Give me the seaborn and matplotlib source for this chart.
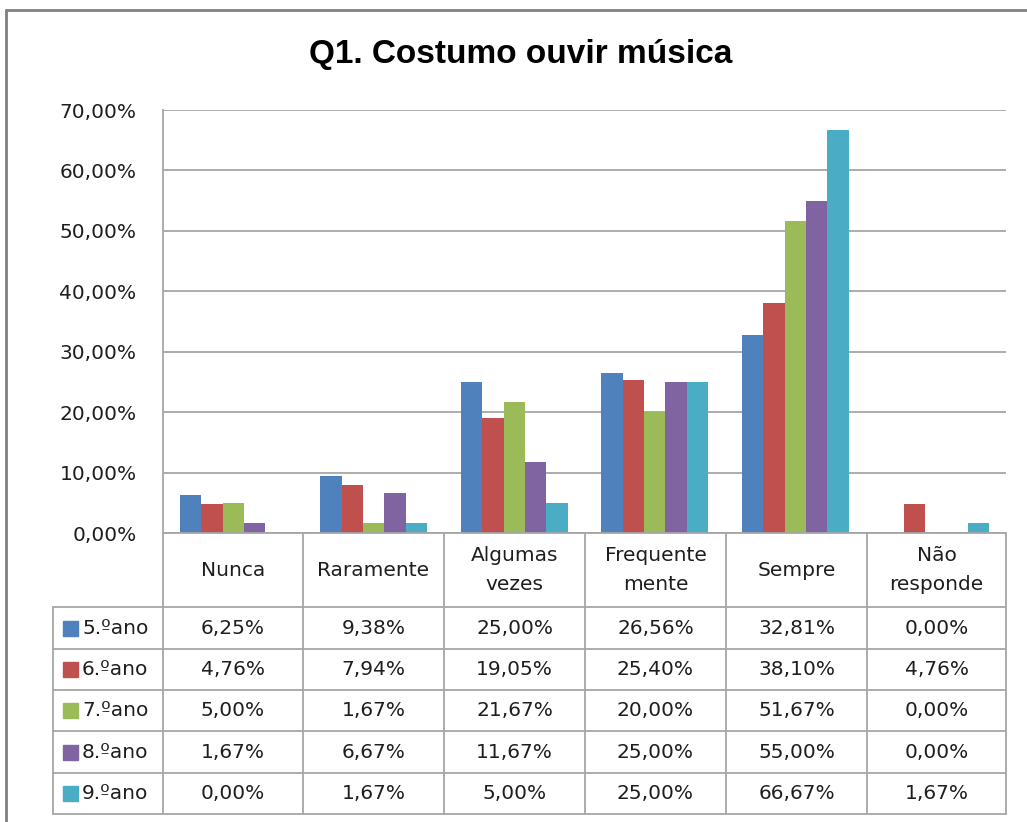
import matplotlib
matplotlib.use("Agg")
import matplotlib.pyplot as plt
import seaborn as sns
import pandas as pd
from matplotlib import font_manager
from matplotlib.lines import Line2D
from matplotlib.patches import Rectangle

categories = ["Nunca", "Raramente", "Algumas vezes", "Frequente mente", "Sempre", "Não responde"]
header_labels = ["Nunca", "Raramente", "Algumas\nvezes", "Frequente\nmente", "Sempre", "Não\nresponde"]
series = ["5.ºano", "6.ºano", "7.ºano", "8.ºano", "9.ºano"]
ano5 = [6.25, 9.38, 25.00, 26.56, 32.81, 0.00]
ano6 = [4.76, 7.94, 19.05, 25.40, 38.10, 4.76]
ano7 = [5.00, 1.67, 21.67, 20.00, 51.67, 0.00]
ano8 = [1.67, 6.67, 11.67, 25.00, 55.00, 0.00]
ano9 = [0.00, 1.67, 5.00, 25.00, 66.67, 1.67]
colors = ["#4F81BD", "#C0504D", "#9BBB59", "#8064A2", "#4BACC6"]
yticks = [0, 10, 20, 30, 40, 50, 60, 70]

values = [ano5, ano6, ano7, ano8, ano9]
rows = []
for s, vals in zip(series, values):
    for c, v in zip(categories, vals):
        rows.append({"cat": c, "serie": s, "val": v})
df = pd.DataFrame(rows)

sns.set_theme(style="white")
installed = {f.name for f in font_manager.fontManager.ttflist}
body_font = ["DejaVu Sans"]
title_font = [f for f in ["Liberation Sans Narrow", "Liberation Sans", "DejaVu Sans"] if f in installed] or ["DejaVu Sans"]
plt.rcParams["font.family"] = body_font

W, H = 1027, 822
FS = 14.5
TXT = "#1E1E1E"
fig = plt.figure(figsize=(W / 100, H / 100), dpi=100)
fig.patch.set_facecolor("white")

# outer frame
fig.add_artist(Line2D([6 / W, 6 / W], [0, 1 - 10 / H], transform=fig.transFigure, color="#808080", lw=2))
fig.add_artist(Line2D([6 / W, 1], [1 - 10 / H, 1 - 10 / H], transform=fig.transFigure, color="#808080", lw=2))

L, R, T, B = 163, 1006, 110, 533
ax = fig.add_axes([L / W, 1 - B / H, (R - L) / W, (B - T) / H])
sns.barplot(data=df, x="cat", y="val", hue="serie", palette=colors, width=0.765,
            gap=0, saturation=1, ax=ax, legend=False, edgecolor="none", linewidth=0)
ax.set_ylim(0, 70)
ax.set_xlim(-0.5, len(categories) - 0.5)
ax.set_yticks(yticks)
ax.set_yticklabels([f"{t:.2f}".replace(".", ",") + "%" for t in yticks], fontsize=FS, color=TXT)
ax.tick_params(axis="y", length=0, pad=19)
ax.set_xticks([])
ax.set_xlabel("")
ax.set_ylabel("")
ax.grid(axis="y", color="#A6A6A6", lw=1.3)
ax.set_axisbelow(True)
for sp in ["top", "right", "bottom"]:
    ax.spines[sp].set_visible(False)
ax.spines["left"].set_color("#A6A6A6")
ax.spines["left"].set_linewidth(1.3)

fig.text(521 / W, 1 - 55 / H, "Q1. Costumo ouvir música", ha="center", va="center",
         fontsize=24, fontweight="bold", family=title_font, color="#000000")

# data table
TL, TB = 53, 814
tax = fig.add_axes([TL / W, 1 - TB / H, (R - TL) / W, (TB - B) / H])
tax.set_xlim(TL, R)
tax.set_ylim(TB, B)
tax.axis("off")
lc = "#A6A6A6"
col_x = [163, 303, 444, 585, 726, 867, 1006]
row_y = [607, 649, 690, 731, 773, 814]
tax.plot([163, R], [B, B], color=lc, lw=1.3, clip_on=False)
for y in row_y:
    tax.plot([TL, R], [y, y], color=lc, lw=1.3, clip_on=False)
tax.plot([TL, TL], [607, 814], color=lc, lw=1.3, clip_on=False)
for x in col_x:
    tax.plot([x, x], [B, 814], color=lc, lw=1.3, clip_on=False)

for i, lab in enumerate(header_labels):
    cx = (col_x[i] + col_x[i + 1]) / 2
    tax.text(cx, (B + 607) / 2, lab, ha="center", va="center", fontsize=FS,
             color=TXT, linespacing=1.7)

for j, (s, vals, col) in enumerate(zip(series, values, colors)):
    cy = (row_y[j] + row_y[j + 1]) / 2
    tax.add_patch(Rectangle((63, cy - 7.5), 15, 15, color=col))
    tax.text(82, cy, s, ha="left", va="center", fontsize=FS, color=TXT)
    for i, v in enumerate(vals):
        cx = (col_x[i] + col_x[i + 1]) / 2
        tax.text(cx, cy, f"{v:.2f}".replace(".", ",") + "%", ha="center", va="center",
                 fontsize=FS, color=TXT)

fig.savefig("out.png", dpi=100, facecolor="white")
